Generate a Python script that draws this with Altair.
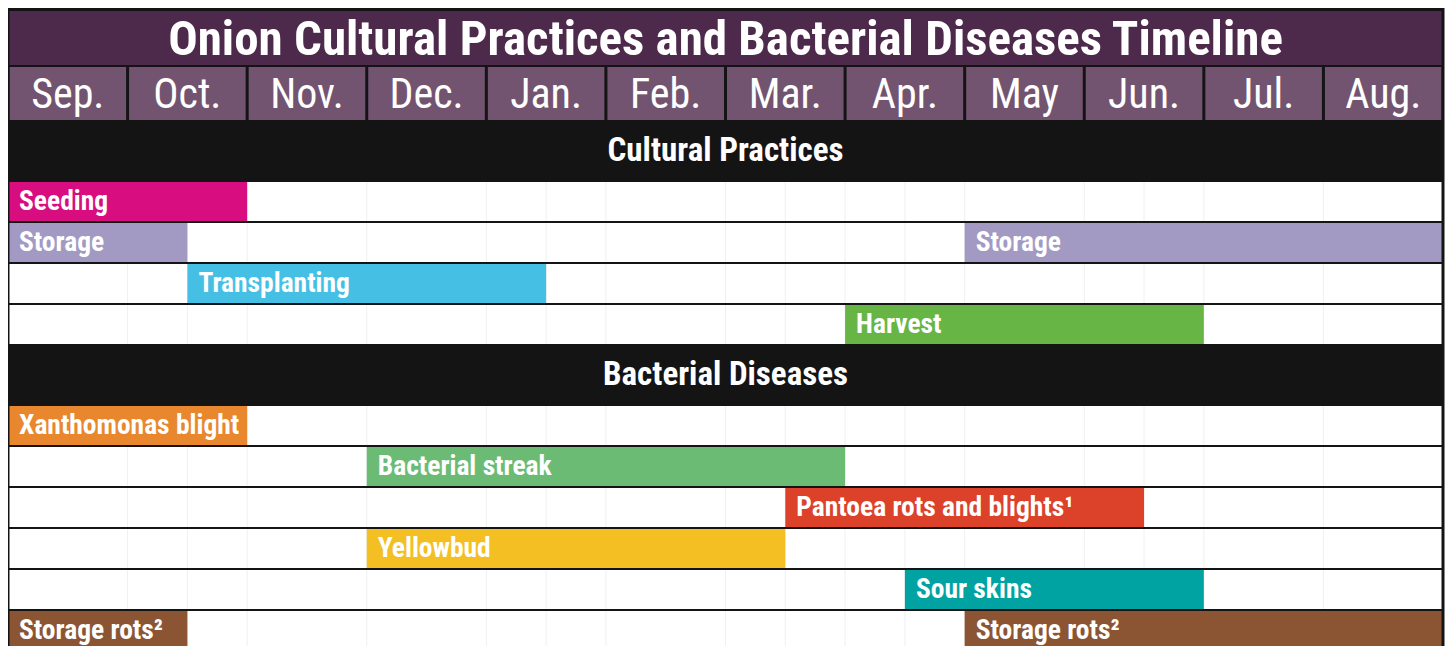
import altair as alt
import pandas as pd

# ---------------- data ----------------
months = ["Sep.", "Oct.", "Nov.", "Dec.", "Jan.", "Feb.", "Mar.", "Apr.", "May", "Jun.", "Jul.", "Aug."]
title_text = "Onion Cultural Practices and Bacterial Diseases Timeline"
section_titles = ["Cultural Practices", "Bacterial Diseases"]

# Cultural practices (month index from Sep. = 0)
cp_label = ["Seeding", "Storage", "Storage", "Transplanting", "Harvest"]
cp_row = [0, 1, 1, 2, 3]
cp_start = [0, 0, 8, 1.5, 7]
cp_end = [2, 1.5, 12, 4.5, 10]
cp_color = ["#D80D80", "#A29AC3", "#A29AC3", "#46BFE4", "#67B545"]

# Bacterial diseases
bd_label = ["Xanthomonas blight", "Bacterial streak", "Pantoea rots and blights\u00b9",
            "Yellowbud", "Sour skins", "Storage rots\u00b2", "Storage rots\u00b2"]
bd_row = [0, 1, 2, 3, 4, 5, 5]
bd_start = [0, 3, 6.5, 3, 7.5, 0, 8]
bd_end = [2, 7, 9.5, 6.5, 10, 1.5, 12]
bd_color = ["#E8872D", "#6BBB74", "#DC412A", "#F4BF23", "#00A3A1", "#8B5534", "#8B5534"]

grid_bounds = [1, 1.5, 2, 3, 4, 4.5, 5, 6, 6.5, 7, 7.5, 8, 9, 9.5, 10, 11]

# ---------------- layout (style) ----------------
W = 1435
TITLE_H, MONTH_H, HEADER_H, ROW_H = 58, 55, 60, 41
N_CP, N_BD = 4, 6
t_title = 0
t_month = t_title + TITLE_H
t_cph = t_month + MONTH_H
t_cp = t_cph + HEADER_H
t_bdh = t_cp + N_CP * ROW_H
t_bd = t_bdh + HEADER_H
TOTAL = t_bd + N_BD * ROW_H

FONT = "Liberation Sans Narrow, Roboto Condensed, DejaVu Sans Condensed, sans-serif"
BLACK = "#141414"

xs = alt.Scale(domain=[0, 12], nice=False, zero=False)
ys = alt.Scale(domain=[0, TOTAL], nice=False, zero=False, reverse=True)

# ---------------- tables ----------------
rects = []
rects.append(dict(x0=0, x1=12, y0=0, y1=TOTAL, fill=BLACK))
rects.append(dict(x0=0, x1=12, y0=t_title + 3, y1=t_month - 1, fill="#4D2A4B"))

row_tops = [t_cp + i * ROW_H for i in range(N_CP)] + [t_bd + i * ROW_H for i in range(N_BD)]
for t in row_tops:
    rects.append(dict(x0=0, x1=12, y0=t + 1, y1=t + ROW_H - 1, fill="white"))
rect_df = pd.DataFrame(rects)

month_df = pd.DataFrame(dict(
    label=months,
    x0=[i for i in range(12)],
    x1=[i + 1 for i in range(12)],
    xc=[i + 0.5 for i in range(12)],
    y0=[t_month + 1] * 12,
    y1=[t_cph - 1] * 12,
    yc=[(t_month + t_cph) / 2 + 1] * 12,
    fill=["#735470"] * 12,
))

grid_rows = []
for t in row_tops:
    for b in grid_bounds:
        grid_rows.append(dict(x0=b, y0=t + 1, y1=t + ROW_H - 1))
grid_df = pd.DataFrame(grid_rows)

bars = []
for lab, r, s, e, c in zip(cp_label, cp_row, cp_start, cp_end, cp_color):
    t = t_cp + r * ROW_H
    bars.append(dict(label=lab, x0=s, x1=e, y0=t + 1, y1=t + ROW_H - 1, yc=t + ROW_H / 2, fill=c))
for lab, r, s, e, c in zip(bd_label, bd_row, bd_start, bd_end, bd_color):
    t = t_bd + r * ROW_H
    bars.append(dict(label=lab, x0=s, x1=e, y0=t + 1, y1=t + ROW_H - 1, yc=t + ROW_H / 2, fill=c))
bar_df = pd.DataFrame(bars)

title_df = pd.DataFrame(dict(label=[title_text], xc=[6], yc=[(t_title + 3 + t_month) / 2 + 1]))
sec_df = pd.DataFrame(dict(label=section_titles, xc=[6, 6],
                           yc=[t_cph + HEADER_H / 2, t_bdh + HEADER_H / 2]))
frame_df = pd.DataFrame(dict(x0=[0], x1=[12], y0=[1], y1=[TOTAL + 2]))

# ---------------- layers ----------------
def rect_enc():
    return dict(
        x=alt.X("x0:Q", scale=xs, axis=None),
        x2="x1:Q",
        y=alt.Y("y0:Q", scale=ys, axis=None),
        y2="y1:Q",
        color=alt.Color("fill:N", scale=None, legend=None),
    )


def text_enc(xf, yf):
    return dict(
        x=alt.X(f"{xf}:Q", scale=xs, axis=None),
        y=alt.Y(f"{yf}:Q", scale=ys, axis=None),
        text="label:N",
    )


bg = alt.Chart(rect_df).mark_rect().encode(**rect_enc())
month_rects = alt.Chart(month_df).mark_rect(xOffset=1.5, x2Offset=-1.5).encode(**rect_enc())
grid = alt.Chart(grid_df).mark_rule(color="#f0f0f0", strokeWidth=1).encode(
    x=alt.X("x0:Q", scale=xs, axis=None), y=alt.Y("y0:Q", scale=ys, axis=None), y2="y1:Q"
)
bar_layer = alt.Chart(bar_df).mark_rect().encode(**rect_enc())
frame = alt.Chart(frame_df).mark_rect(fillOpacity=0, stroke=BLACK, strokeWidth=3).encode(
    x=alt.X("x0:Q", scale=xs, axis=None), x2="x1:Q",
    y=alt.Y("y0:Q", scale=ys, axis=None), y2="y1:Q"
)
month_text = alt.Chart(month_df).mark_text(
    font=FONT, fontSize=42, color="white", baseline="middle", align="center"
).encode(**text_enc("xc", "yc"))
bar_text = alt.Chart(bar_df).mark_text(
    font=FONT, fontSize=27.5, fontWeight="bold", color="white", align="left", baseline="middle", dx=11
).encode(**text_enc("x0", "yc"))
title_layer = alt.Chart(title_df).mark_text(
    font=FONT, fontSize=49, fontWeight="bold", color="white", baseline="middle", align="center"
).encode(**text_enc("xc", "yc"))
section_layer = alt.Chart(sec_df).mark_text(
    font=FONT, fontSize=33, fontWeight="bold", color="white", baseline="middle", align="center"
).encode(**text_enc("xc", "yc"))

chart = alt.layer(
    bg, month_rects, grid, bar_layer, frame,
    month_text, bar_text, title_layer, section_layer
).properties(
    width=W, height=TOTAL,
    autosize=alt.AutoSizeParams(type="none"),
    padding={"left": 0, "top": 0, "right": 2, "bottom": 0},
).configure_view(stroke=None)

chart.save("out.html", embed_options={"renderer": "svg", "actions": False})
